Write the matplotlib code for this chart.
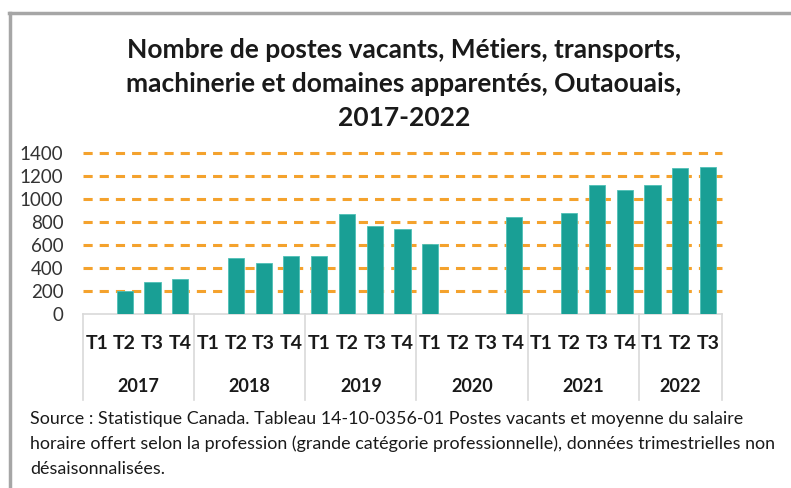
import numpy as np
import matplotlib.pyplot as plt
from matplotlib.lines import Line2D

# data
years = ['2017', '2018', '2019', '2020', '2021', '2022']
quarters = [['T1', 'T2', 'T3', 'T4'],
            ['T1', 'T2', 'T3', 'T4'],
            ['T1', 'T2', 'T3', 'T4'],
            ['T1', 'T2', 'T3', 'T4'],
            ['T1', 'T2', 'T3', 'T4'],
            ['T1', 'T2', 'T3']]
postes = [np.nan, 205, 280, 305,
          np.nan, 490, 445, 510,
          510, 875, 770, 745,
          615, np.nan, np.nan, 845,
          np.nan, 885, 1125, 1085,
          1125, 1270, 1285]
y_ticks = [0, 200, 400, 600, 800, 1000, 1200, 1400]

title = ("Nombre de postes vacants, Métiers, transports,\n"
         "machinerie et domaines apparentés, Outaouais,\n2017-2022")
source = ("Source : Statistique Canada. Tableau 14-10-0356-01 Postes vacants et moyenne du salaire\n"
          "horaire offert selon la profession (grande catégorie professionnelle), données trimestrielles non\n"
          "désaisonnalisées.")

plt.rcParams['font.family'] = ['Lato', 'DejaVu Sans']

W, H = 791, 488
fig = plt.figure(figsize=(W / 100, H / 100), dpi=100)

def fx(px):
    return px / W

def fy(py):
    return 1 - py / H

teal = '#199F95'
orange = '#F4A22D'
gray = '#D9D9D9'

ax = fig.add_axes([fx(83), fy(314.3), fx(722) - fx(83), fy(153.3) - fy(314.3)])
n = len(postes)
x = np.arange(n)
ax.bar(x, postes, width=0.58, color=teal, edgecolor='#4FC0B6', linewidth=0.6, zorder=3)
ax.set_xlim(-0.5, n - 0.5)
ax.set_ylim(0, 1400)

for v in y_ticks[1:]:
    ax.hlines(v, -0.5, n - 0.5, colors=orange, linewidth=2.2, linestyles=(0, (3, 2.3)),
              clip_on=False, zorder=1)

for s in ['top', 'right', 'left']:
    ax.spines[s].set_visible(False)
ax.spines['bottom'].set_color(gray)
ax.spines['bottom'].set_linewidth(1.2)

ax.set_yticks(y_ticks)
ax.set_yticklabels([str(v) for v in y_ticks], fontsize=13.5, color='#333333')
ax.tick_params(axis='y', length=0, pad=14)
ax.set_xticks([])

# multi-level category axis
trans = ax.get_xaxis_transform()
pos = 0
bounds = [-0.5]
for yr, qs in zip(years, quarters):
    for i, q in enumerate(qs):
        ax.text(pos + i, -0.18, q, transform=trans, ha='center', va='center',
                fontsize=14, fontweight='bold', color='#1a1a1a', clip_on=False)
    ax.text(pos + (len(qs) - 1) / 2, -0.45, yr, transform=trans, ha='center', va='center',
            fontsize=13, fontweight='bold', color='#1a1a1a', clip_on=False)
    pos += len(qs)
    bounds.append(pos - 0.5)
for b in bounds:
    ax.add_line(Line2D([b, b], [0, -0.53], transform=trans, color=gray, linewidth=1.2,
                       clip_on=False))

fig.text(fx(404), fy(84), title, ha='center', va='center', fontsize=19,
         fontweight='bold', color='#1a1a1a', linespacing=1.5)
fig.text(fx(30), fy(444), source, ha='left', va='center', fontsize=12.9,
         color='#1a1a1a', linespacing=1.62)

# outer frame (top and left edges)
fig.add_artist(Line2D([fx(9), fx(W)], [fy(13), fy(13)], transform=fig.transFigure,
                      color='#A6A6A6', linewidth=2.5))
fig.add_artist(Line2D([fx(10), fx(10)], [fy(13), fy(H)], transform=fig.transFigure,
                      color='#A6A6A6', linewidth=2.5))

fig.savefig('out.png', dpi=100)
